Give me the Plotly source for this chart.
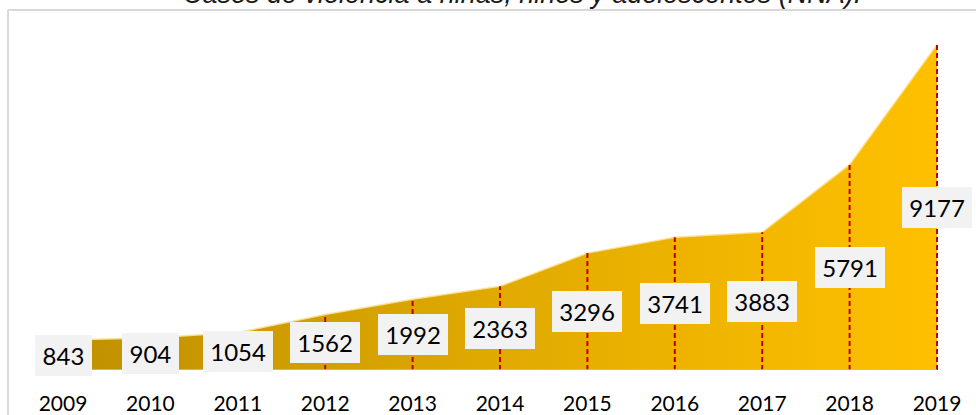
import plotly.graph_objects as go

years = [2009, 2010, 2011, 2012, 2013, 2014, 2015, 2016, 2017, 2018, 2019]
cases = [843, 904, 1054, 1562, 1992, 2363, 3296, 3741, 3883, 5791, 9177]
tick_labels = [str(y) for y in years]
title_text = "Casos de violencia a niñas, niños y adolescentes (NNA)."

W, H = 976, 415
plot_top, plot_bottom = 10, 370
ph = plot_bottom - plot_top
px_per_year = 87.4
x0 = 2009 - 63 / px_per_year
x1 = x0 + W / px_per_year
units_per_px = 28.2
y_max = ph * units_per_px

fig = go.Figure()

fig.add_trace(go.Scatter(
    x=years, y=cases, mode="lines", fill="tozeroy",
    line=dict(color="rgba(250,225,150,0.9)", width=1.5),
    fillgradient=dict(type="horizontal",
                      colorscale=[[0, "#BF9000"], [0.5, "#E0AA00"], [1, "#FFC000"]]),
    hoverinfo="skip", showlegend=False,
))

# dashed drop lines
dx, dy = [], []
for yr, v in zip(years, cases):
    dx += [yr, yr, None]
    dy += [0, v, None]
fig.add_trace(go.Scatter(
    x=dx, y=dy, mode="lines",
    line=dict(color="#C00000", width=2, dash="5px,3px"),
    hoverinfo="skip", showlegend=False,
))

# base shadow line under area
fig.add_shape(type="line", xref="x", yref="y", x0=years[0], x1=years[-1], y0=0, y1=0,
              line=dict(color="#BFBFBF", width=1.5))

for yr, v in zip(years, cases):
    txt = str(v)
    fig.add_annotation(
        x=yr, y=v / 2, xref="x", yref="y", text=txt, showarrow=False,
        font=dict(family="Lato, Calibri, sans-serif", size=24, color="#000000"),
        bgcolor="#F2F2F2", borderpad=0, borderwidth=0,
        width=len(txt) * 13.3 + 17, height=41,
        xanchor="center", yanchor="middle", align="center", valign="middle",
    )

# title (partially cut off at top)
fig.add_annotation(
    x=522 / W, y=1 + 16 / ph, xref="paper", yref="paper", text=title_text,
    showarrow=False, xanchor="center", yanchor="middle",
    font=dict(family="Liberation Sans, Arial, sans-serif", size=27, color="#1a1a1a",
              style="italic"),
)

# outer chart border (cropped)
lx = 8 / W
bottom_paper = (plot_bottom - H - 5) / ph
fig.add_shape(type="line", xref="paper", yref="paper", x0=lx, x1=1.01, y0=1, y1=1,
              line=dict(color="#D9D9D9", width=2))
fig.add_shape(type="line", xref="paper", yref="paper", x0=lx, x1=lx, y0=1, y1=bottom_paper,
              line=dict(color="#D9D9D9", width=2))

fig.update_layout(
    width=W, height=H,
    margin=dict(l=0, r=0, t=plot_top, b=H - plot_bottom),
    paper_bgcolor="white", plot_bgcolor="white",
    showlegend=False,
    xaxis=dict(range=[x0, x1], tickvals=years, ticktext=tick_labels,
               showgrid=False, zeroline=False, showline=False, ticks="",
               ticklabelstandoff=19,
               tickfont=dict(family="Lato, Calibri, sans-serif", size=21, color="#000000")),
    yaxis=dict(range=[0, y_max], visible=False, showgrid=False, zeroline=False),
)

fig.write_html("out.html", config={"displayModeBar": False},
               post_script="document.body.style.margin='0px';")
